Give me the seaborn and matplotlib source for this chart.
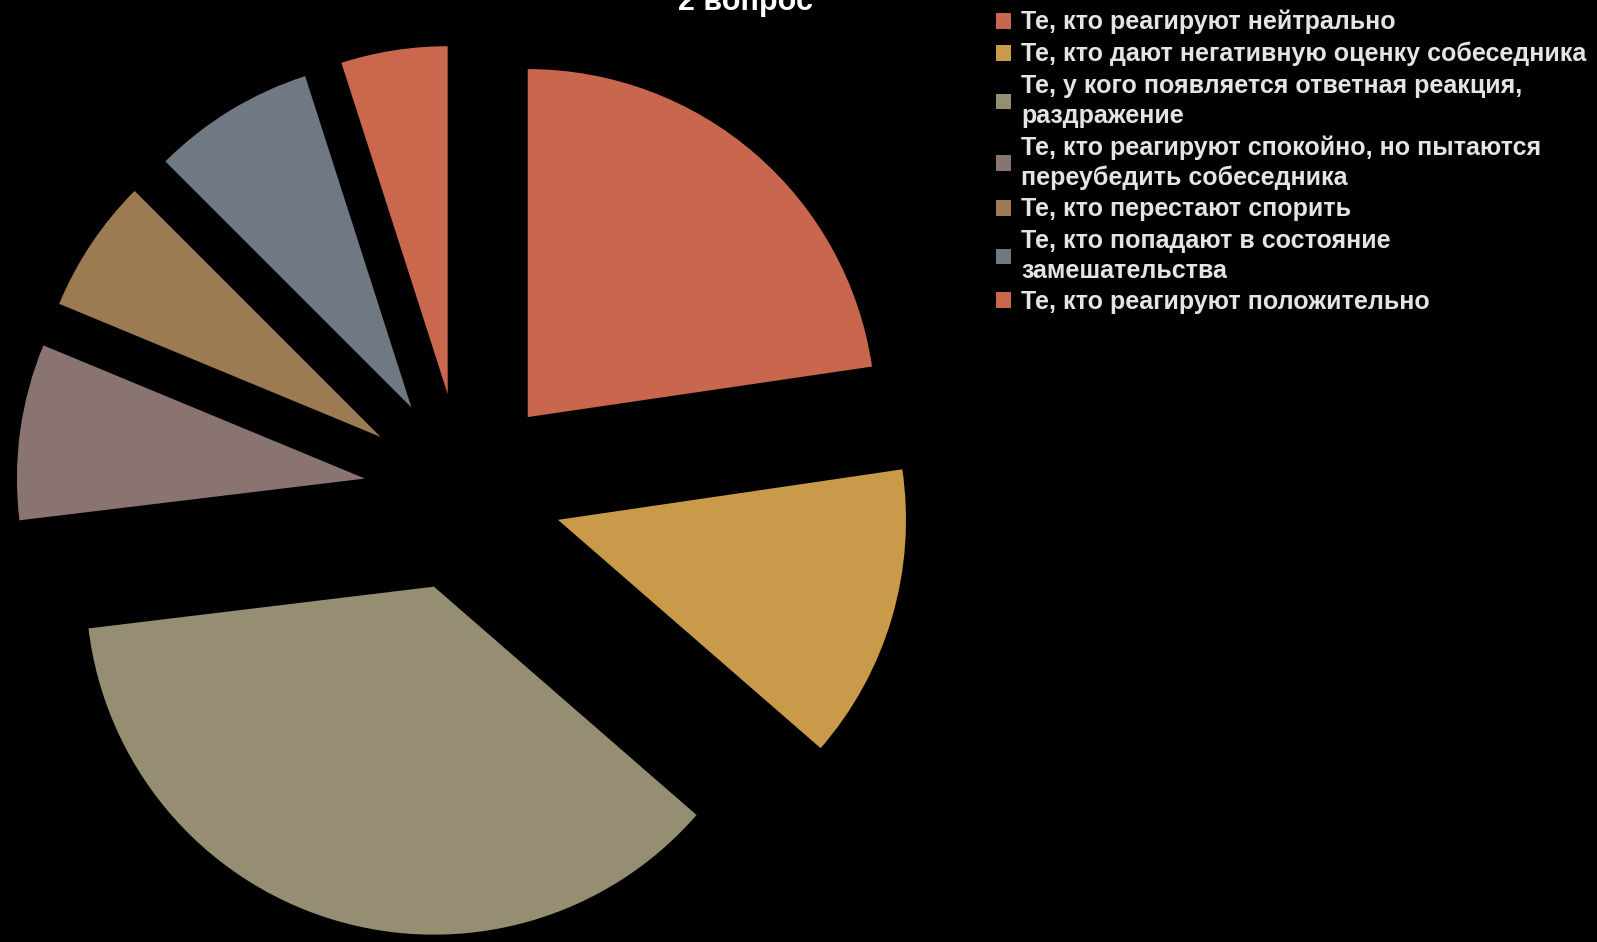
import matplotlib
matplotlib.use('Agg')
import matplotlib.pyplot as plt
import seaborn as sns

# 2 вопрос - доли ответов (оценка по углам секторов)
labels = [
    'Те, кто реагируют нейтрально',
    'Те, кто дают негативную оценку собеседника',
    'Те, у кого появляется ответная реакция,\nраздражение',
    'Те, кто реагируют спокойно, но пытаются\nпереубедить собеседника',
    'Те, кто перестают спорить',
    'Те, кто попадают в состояние\nзамешательства',
    'Те, кто реагируют положительно',
]
values = [22.5, 13.6, 36.4, 8.1, 6.2, 7.5, 4.9]
colors = ['#C8664E', '#C89A4A', '#968E72', '#8A7472', '#9C7A52', '#707884', '#CA684E']
title = '2 вопрос'

sns.set_theme(style='dark')
plt.rcParams['font.family'] = ['Liberation Sans', 'DejaVu Sans']

W, H = 1597, 942
fig = plt.figure(figsize=(W / 100, H / 100), dpi=100, facecolor='black')
ax = fig.add_axes([0, 0, 1, 1])
ax.set_facecolor('black')

pal = sns.color_palette(colors)
wedges, _ = ax.pie(values, colors=pal, startangle=90, counterclock=False,
                   radius=348, center=(463, H - 492), explode=[99] * len(values),
                   wedgeprops=dict(linewidth=0))
ax.set_xlim(0, W)
ax.set_ylim(0, H)
ax.set_aspect('equal')
ax.axis('off')

fig.text(745 / W, 1 - 2 / H, title, ha='center', va='center', color='white',
         fontsize=22, fontweight='bold')

leg = fig.legend(wedges, labels, loc='upper left', bbox_to_anchor=(996 / W, 1 - 10 / H),
                 frameon=False, fontsize=18, handlelength=0.6, handleheight=0.6,
                 handletextpad=0.4, labelspacing=0.3, borderaxespad=0,
                 borderpad=0)
for t in leg.get_texts():
    t.set_color('#E4E4E4')
    t.set_fontweight('bold')
    t.set_linespacing(1.3)

fig.savefig('out.png', dpi=100, facecolor='black')
